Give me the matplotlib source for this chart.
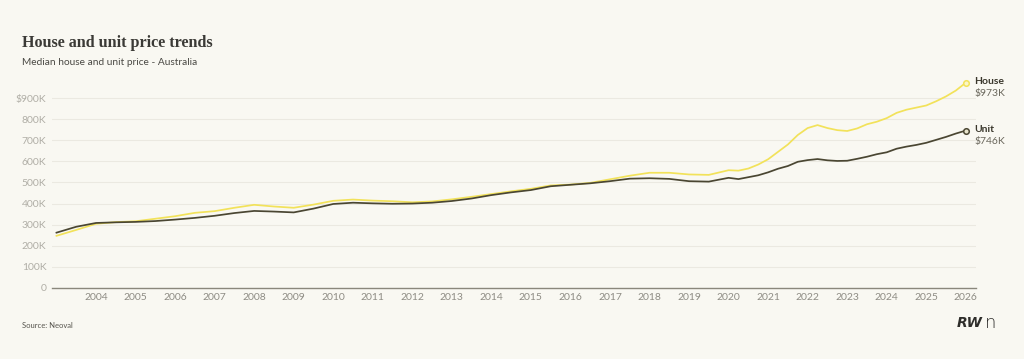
import numpy as np
import matplotlib.pyplot as plt

# podaci ocitani s grafa (u tisucama $)
years = [2003.0, 2003.5, 2004.0, 2004.5, 2005.0, 2005.5, 2006.0, 2006.5, 2007.0, 2007.5,
         2008.0, 2008.5, 2009.0, 2009.5, 2010.0, 2010.5, 2011.0, 2011.5, 2012.0, 2012.5,
         2013.0, 2013.5, 2014.0, 2014.5, 2015.0, 2015.5, 2016.0, 2016.5, 2017.0, 2017.5,
         2018.0, 2018.5, 2019.0, 2019.5, 2020.0, 2020.25, 2020.5, 2020.75, 2021.0, 2021.25,
         2021.5, 2021.75, 2022.0, 2022.25, 2022.5, 2022.75, 2023.0, 2023.25, 2023.5, 2023.75,
         2024.0, 2024.25, 2024.5, 2024.75, 2025.0, 2025.25, 2025.5, 2025.75, 2026.0]

house = [247, 275, 304, 312, 316, 328, 340, 356, 364, 380,
         394, 386, 380, 395, 413, 419, 414, 411, 406, 410,
         420, 432, 445, 458, 470, 486, 490, 498, 515, 532,
         546, 546, 538, 536, 558, 556, 566, 585, 610, 645,
         680, 725, 758, 772, 758, 748, 744, 756, 776, 788,
         805, 830, 845, 855, 865, 885, 908, 936, 973]

unit = [262, 290, 308, 311, 313, 317, 324, 332, 342, 355,
        365, 362, 358, 376, 398, 404, 401, 399, 400, 404,
        412, 424, 440, 453, 464, 482, 489, 496, 506, 518,
        520, 517, 506, 504, 522, 516, 525, 534, 548, 565,
        578, 598, 606, 611, 605, 602, 603, 612, 622, 634,
        643, 660, 670, 678, 688, 702, 716, 732, 746]

y_ticks = [0, 100, 200, 300, 400, 500, 600, 700, 800, 900]
y_labels = ['0', '100K', '200K', '300K', '400K', '500K', '600K', '700K', '800K', '$900K']
x_ticks = list(range(2004, 2027))

bg = '#f9f8f2'
c_house = '#f2e25a'
c_unit = '#4a4632'

fig = plt.figure(figsize=(10.24, 3.59), dpi=100, facecolor=bg)
ax = fig.add_axes([0.0508, 0.198, 0.902, 0.5875], facecolor=bg)

ax.plot(years, house, color=c_house, lw=1.25, zorder=3)
ax.plot(years, unit, color=c_unit, lw=1.25, zorder=4)
ax.plot(years[-1], house[-1], 'o', ms=4, mfc='#fbf6c8', mec=c_house, mew=1.1, zorder=5)
ax.plot(years[-1], unit[-1], 'o', ms=4, mfc='#e8e4cc', mec=c_unit, mew=1.1, zorder=5)

ax.set_xlim(2002.887, 2026.25)
ax.set_ylim(0, 1000)
ax.set_yticks(y_ticks)
ax.set_yticklabels(y_labels)
ax.set_xticks(x_ticks)
ax.grid(axis='y', color='#ebe9e1', lw=0.8)
ax.set_axisbelow(True)
for s in ['top', 'right', 'left']:
    ax.spines[s].set_visible(False)
ax.spines['bottom'].set_color('#8a877c')
ax.spines['bottom'].set_linewidth(1.0)
ax.tick_params(axis='y', length=0, pad=4, labelsize=7.5, labelcolor='#b0aea6')
ax.tick_params(axis='x', length=0, pad=4, labelsize=7.5, labelcolor='#8e8c84')
for lab in ax.get_yticklabels() + ax.get_xticklabels():
    lab.set_family('Lato')

# oznake na kraju linija
ax.annotate('House', (years[-1], house[-1]), xytext=(6, 1), textcoords='offset points',
            fontsize=7.5, color='#3a372c', family='Lato', fontweight='bold', va='center',
            annotation_clip=False)
ax.annotate('$973K', (years[-1], house[-1]), xytext=(6, -8), textcoords='offset points',
            fontsize=7.5, color='#6a675c', family='Lato', va='center', annotation_clip=False)
ax.annotate('Unit', (years[-1], unit[-1]), xytext=(6, 1), textcoords='offset points',
            fontsize=7.5, color='#3a372c', family='Lato', fontweight='bold', va='center',
            annotation_clip=False)
ax.annotate('$746K', (years[-1], unit[-1]), xytext=(6, -8), textcoords='offset points',
            fontsize=7.5, color='#6a675c', family='Lato', va='center', annotation_clip=False)

fig.text(0.021, 0.88, 'House and unit price trends', fontsize=11.6, fontweight='bold',
         family='Liberation Serif', color='#3b3a36', va='center')
fig.text(0.021, 0.827, 'Median house and unit price - Australia', fontsize=7.3,
         family='Lato', color='#4a4944', va='center')
fig.text(0.021, 0.094, 'Source: Neoval', fontsize=5.5, family='Lato', color='#55534c', va='center')
# logo
fig.text(0.96, 0.1, 'RW', fontsize=10, family='DejaVu Sans', fontweight='bold',
         style='italic', color='#2e2d2a', ha='right', va='center')
fig.text(0.962, 0.1, 'n', fontsize=13, family='DejaVu Sans', fontweight='light',
         color='#2e2d2a', ha='left', va='center')

fig.savefig('out.png', dpi=100, facecolor=bg)
